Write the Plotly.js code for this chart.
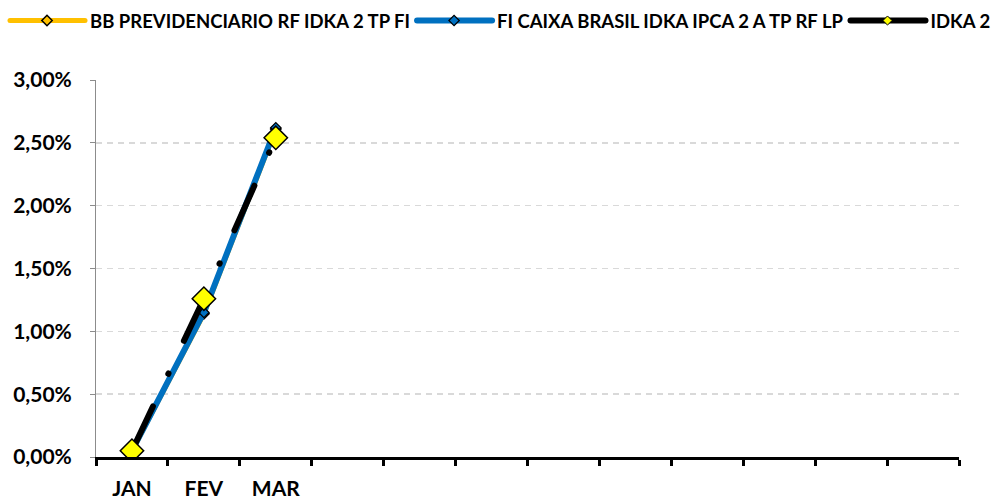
<!DOCTYPE html>
<html><head><meta charset="utf-8">
<script src="https://cdn.plot.ly/plotly-3.0.1.min.js"></script>
<style>html,body{margin:0;padding:0;background:#fff;}#c{width:991px;height:502px;}</style>
</head><body><div id="c"></div>
<script>
var months = ['JAN','FEV','MAR','ABR','MAI','JUN','JUL','AGO','SET','OUT','NOV','DEZ'];
var shownMonths = ['JAN','FEV','MAR'];
var bbName = 'BB PREVIDENCIARIO RF IDKA 2 TP FI';
var bbValues = [0.05, 1.14, 2.61];
var cxName = 'FI CAIXA BRASIL IDKA IPCA 2 A TP RF LP';
var cxValues = [0.05, 1.15, 2.62];
var idkaName = 'IDKA 2';
var idkaValues = [0.05, 1.26, 2.54];
var yTicks = [0, 0.5, 1, 1.5, 2, 2.5, 3];

var xIdx = shownMonths.map(function(m){ return months.indexOf(m); });
var yTickText = yTicks.map(function(v){ return v.toFixed(2).replace('.', ',') + '%'; });
var fontFam = 'Lato, "Open Sans", sans-serif';

var traces = [
  {x: xIdx, y: bbValues, name: bbName, type: 'scatter', mode: 'lines+markers',
   line: {color: '#FFC000', width: 5},
   marker: {symbol: 'diamond', size: 8, color: '#FFC000', line: {color: '#000', width: 1.5}}},
  {x: xIdx, y: cxValues, name: cxName, type: 'scatter', mode: 'lines+markers',
   line: {color: '#0070C0', width: 6},
   marker: {symbol: 'diamond', size: 8, color: '#0070C0', line: {color: '#000', width: 1.2}}},
  {x: xIdx, y: idkaValues, name: idkaName, type: 'scatter', mode: 'lines+markers',
   line: {color: '#000000', width: 6, dash: '49px,36px,0.5px,36px'},
   marker: {symbol: 'diamond', size: 7, color: '#FFFF00', line: {color: '#000', width: 1}}},
  {x: xIdx, y: idkaValues, name: idkaName, type: 'scatter', mode: 'markers', showlegend: false,
   marker: {symbol: 'diamond', size: 18, color: '#FFFF00', line: {color: '#000', width: 1.5}}}
];

var layout = {
  width: 991, height: 502,
  margin: {l: 96, r: 32, t: 80, b: 45},
  paper_bgcolor: '#fff', plot_bgcolor: '#fff',
  separators: ',.',
  font: {family: fontFam, size: 14, color: '#000', weight: 'bold'},
  showlegend: true,
  legend: {orientation: 'h', xref: 'container', yref: 'container', x: 50/991, y: 0.996, xanchor: 'left', yanchor: 'top',
           font: {family: fontFam, size: 18.5, color: '#000', weight: 'bold'}, tracegroupgap: 0},
  xaxis: {
    range: [-0.5, months.length - 0.5], tickmode: 'array', tickvals: xIdx, ticktext: shownMonths,
    ticks: '', showgrid: false, zeroline: false, showline: true, linecolor: '#000', linewidth: 3,
    ticklabelstandoff: 11, tickfont: {family: fontFam, size: 21, color: '#000', weight: 'bold'},
    minor: {tick0: -0.5, dtick: 1, ticks: 'outside', ticklen: 6, tickwidth: 3, tickcolor: '#000', showgrid: false},
    fixedrange: true
  },
  yaxis: {
    range: [0, 3], tickmode: 'array', tickvals: yTicks, ticktext: yTickText,
    ticks: 'outside', ticklen: 5, tickcolor: '#8c8c8c', tickwidth: 1,
    showline: true, linecolor: '#8c8c8c', linewidth: 1, zeroline: false,
    showgrid: true, gridcolor: '#d9d9d9', griddash: '6px,5px', gridwidth: 1.5,
    ticklabelstandoff: 14,
    tickfont: {family: fontFam, size: 21, color: '#000', weight: 'bold'},
    fixedrange: true
  }
};
Plotly.newPlot('c', traces, layout, {displayModeBar: false, staticPlot: true}).then(function(gd){
  // round line caps as in the original
  gd.querySelectorAll('.scatterlayer .js-line').forEach(function(p){ p.style.strokeLinecap = 'round'; p.style.strokeLinejoin = 'round'; });
  // longer legend line samples with centered markers
  gd.querySelectorAll('.legend .scrollbox').forEach(function(e){ e.removeAttribute('clip-path'); });
  gd.querySelectorAll('.legend .legendlines path').forEach(function(p){
    p.setAttribute('d', 'M-40,0h75'); p.style.strokeDasharray = 'none'; p.style.strokeLinecap = 'round';
  });
  gd.querySelectorAll('.legend .legendsymbols .scatterpts').forEach(function(p){ p.setAttribute('transform', 'translate(-3,0)'); });
  // re-space legend entries to make room for the longer samples
  var items = gd.querySelectorAll('.legend .traces');
  var xPos = 0;
  items.forEach(function(it){
    var tr = it.getAttribute('transform') || '';
    var m = /translate\(\s*([-\d.]+)[ ,]+([-\d.]+)\s*\)/.exec(tr);
    var yPos = m ? m[2] : 0;
    it.setAttribute('transform', 'translate(' + xPos + ',' + yPos + ')');
    var t = it.querySelector('text.legendtext');
    var w = t ? t.getBBox().width : 0;
    xPos += 40 + w + 47;
  });
});
</script></body></html>
